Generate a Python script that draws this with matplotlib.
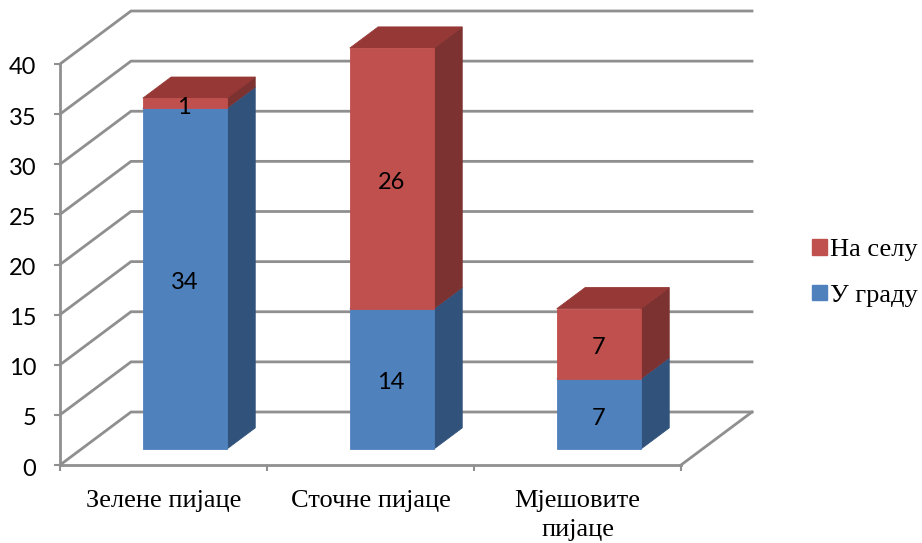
import matplotlib
matplotlib.use('Agg')
import matplotlib.pyplot as plt
from matplotlib.patches import Patch
from matplotlib.transforms import ScaledTranslation

# values
categories = ['Зелене пијаце', 'Сточне пијаце', 'Мјешовите\nпијаце']
u_gradu = [34, 14, 7]
na_selu = [1, 26, 7]
y_ticks = [0, 5, 10, 15, 20, 25, 30, 35, 40]

W, H = 922, 543
fig = plt.figure(figsize=(W / 100, H / 100), dpi=100)

# axes box is the front plane of the fake 3D chart
left, right, bottom, top = 60, 681, 465, 64
ax = fig.add_axes([left / W, 1 - bottom / H, (right - left) / W, (bottom - top) / H])
ax.set_xlim(0, 3)
ax.set_ylim(0, 40)

grid_col = '#8f8f8f'
depth_x = 71 / 207
depth_y = 53 / 10.025


def project(x, y, d):
    # d = 0 front plane, d = 1 back wall
    return x + d * depth_x, y + d * depth_y


def poly(points, color, z):
    xs = [p[0] for p in points]
    ys = [p[1] for p in points]
    ax.fill(xs, ys, color=color, lw=0.6, zorder=z, clip_on=False)


# walls and floor lines
for v in y_ticks:
    x0, y0 = project(0, v, 0)
    x1, y1 = project(0, v, 1)
    x2, y2 = project(3, v, 1)
    ax.plot([x0, x1, x2], [y0, y1, y2], color=grid_col, lw=2, zorder=1,
            clip_on=False, solid_joinstyle='miter')
x0, y0 = project(3, 0, 0)
x1, y1 = project(3, 0, 1)
ax.plot([x0, x1], [y0, y1], color=grid_col, lw=2, zorder=1, clip_on=False)


def box(center, low, high, front, side, top_col, z):
    w = 0.406
    d0, d1 = 0.3, 0.7
    xa = center - w / 2
    xb = center + w / 2
    poly([project(xb, low, d0), project(xb, low, d1), project(xb, high, d1), project(xb, high, d0)], side, z)
    poly([project(xa, high, d0), project(xb, high, d0), project(xb, high, d1), project(xa, high, d1)], top_col, z)
    poly([project(xa, low, d0), project(xb, low, d0), project(xb, high, d0), project(xa, high, d0)], front, z + 0.1)


blue = ['#4f81bd', '#31527a', '#4f81bd']
red = ['#c0504d', '#7c3230', '#953836']

for i in range(len(categories)):
    c = i + 0.5
    box(c, 0, u_gradu[i], blue[0], blue[1], blue[2], 3)
    box(c, u_gradu[i], u_gradu[i] + na_selu[i], red[0], red[1], red[2], 4)
    # value labels on the front faces, slightly below the middle
    lx, ly = project(c, u_gradu[i] / 2, 0.3)
    ax.text(lx - 0.003, ly - 0.4, str(u_gradu[i]), ha='center', va='center', fontsize=17,
            family='Lato', color='black', zorder=6)
    lx, ly = project(c, u_gradu[i] + na_selu[i] / 2, 0.3)
    ax.text(lx - 0.003, ly - 0.4, str(na_selu[i]), ha='center', va='center', fontsize=17,
            family='Lato', color='black', zorder=6)

# axes
for s in ['top', 'right']:
    ax.spines[s].set_visible(False)
for s in ['left', 'bottom']:
    ax.spines[s].set_color(grid_col)
    ax.spines[s].set_linewidth(2)
    ax.spines[s].set_zorder(2)
ax.set_yticks(y_ticks)
ax.set_xticks([0, 1, 2, 3])
ax.set_xticks([0.5, 1.5, 2.5], minor=True)
ax.set_xticklabels([])
ax.set_xticklabels(categories, minor=True, family='Liberation Serif', fontsize=19,
                   linespacing=1.4)
ax.tick_params(axis='x', which='major', length=4, width=1.5, color=grid_col)
ax.tick_params(axis='x', which='minor', length=0, pad=18)
ax.tick_params(axis='y', length=4, width=1.5, color=grid_col, pad=13)
# tick labels sit a little lower in the reference
shift = ScaledTranslation(0, -2 / 100, fig.dpi_scale_trans)
for lab in ax.get_yticklabels():
    lab.set_family('Lato')
    lab.set_fontsize(17)
    lab.set_transform(lab.get_transform() + shift)

handles = [Patch(color=red[0], label='На селу'), Patch(color=blue[0], label='У граду')]
fig.legend(handles=handles, loc='upper left', bbox_to_anchor=(812 / W, 1 - 239 / H),
           frameon=False, handlelength=0.55, handleheight=0.55, handletextpad=0.12,
           labelspacing=0.88, borderpad=0, borderaxespad=0,
           prop={'family': 'Liberation Serif', 'size': 19})

fig.savefig('out.png', dpi=100)
